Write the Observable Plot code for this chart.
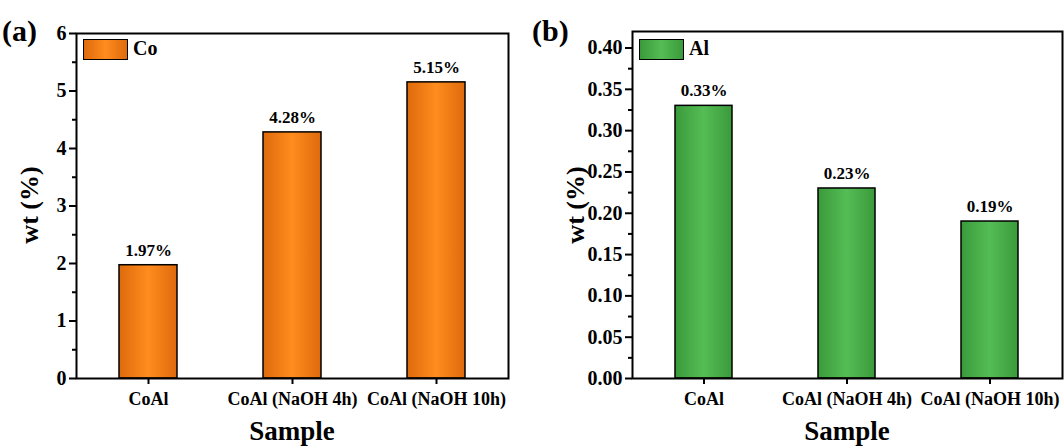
<!DOCTYPE html>
<html>
<head>
<meta charset="utf-8">
<script src="https://cdn.jsdelivr.net/npm/d3@7"></script>
<script src="https://cdn.jsdelivr.net/npm/@observablehq/plot@0.6"></script>
<style>
  html, body { margin: 0; padding: 0; background: #fff; }
  #wrap { position: relative; width: 1064px; height: 446px; display: flex; font-family: "Liberation Serif", "Times New Roman", serif; font-weight: bold; color: #000; }
  .panel { position: relative; width: 532px; height: 446px; }
  .ov { position: absolute; white-space: nowrap; font-weight: bold; }
  .swatch { position: absolute; width: 43px; height: 19px; border: 1.5px solid #000; }
  svg text { font-family: "Liberation Serif", "Times New Roman", serif; }
</style>
</head>
<body>
<div id="wrap">
  <div class="panel" id="pa"></div>
  <div class="panel" id="pb"></div>
</div>
<script>
// ---- data ----
const samples = ["CoAl", "CoAl (NaOH 4h)", "CoAl (NaOH 10h)"];
const coValues = [1.97, 4.28, 5.15];
const alValues = [0.33, 0.23, 0.19];
const seriesNames = ["Co", "Al"];
const panelLetters = ["(a)", "(b)"];
const coTicks = [0, 1, 2, 3, 4, 5, 6];
const coMinor = [0.5, 1.5, 2.5, 3.5, 4.5, 5.5];
const alTicks = [0, 0.05, 0.10, 0.15, 0.20, 0.25, 0.30, 0.35, 0.40];
const alMinor = [0.025, 0.075, 0.125, 0.175, 0.225, 0.275, 0.325, 0.375];
const yLabel = "wt (%)";
const xLabel = "Sample";

const FONT = '"Liberation Serif", "Times New Roman", serif';

const colors = {
  Co: {edge: "#de6a0c", mid: "#ff8c1e"},
  Al: {edge: "#3a9a3a", mid: "#55bd55"}
};

function addGradient(svg, id, c) {
  const ns = "http://www.w3.org/2000/svg";
  const defs = document.createElementNS(ns, "defs");
  const g = document.createElementNS(ns, "linearGradient");
  g.setAttribute("id", id);
  g.setAttribute("x1", "0"); g.setAttribute("x2", "1");
  g.setAttribute("y1", "0"); g.setAttribute("y2", "0");
  [[0, c.edge], [0.5, c.mid], [1, c.edge]].forEach(([o, col]) => {
    const s = document.createElementNS(ns, "stop");
    s.setAttribute("offset", o);
    s.setAttribute("stop-color", col);
    g.appendChild(s);
  });
  defs.appendChild(g);
  svg.insertBefore(defs, svg.firstChild);
}

function panel(el, values, ticks, minor, domain, fmt, name, letter, opts) {
  const data = samples.map((s, i) => ({sample: s, value: values[i]}));
  const gid = "grad" + name;
  const svg = Plot.plot({
    width: 532,
    height: 446,
    marginLeft: opts.ml,
    marginRight: opts.mr,
    marginTop: opts.mt,
    marginBottom: 68,
    style: {fontFamily: FONT, fontWeight: "bold", color: "#000", background: "#fff", overflow: "visible"},
    x: {domain: samples, paddingInner: 0.6, paddingOuter: 0.3, label: null},
    y: {domain: domain, label: null},
    marks: [
      Plot.barY(data, {x: "sample", y: "value", fill: `url(#${gid})`, stroke: "#000", strokeWidth: 1.5}),
      Plot.text(data, {x: "sample", y: "value", text: d => d.value.toFixed(2) + "%", dy: -15, fontSize: 17, fontWeight: "bold"}),
      Plot.axisY({ticks: ticks, tickFormat: fmt, tickSize: 7, tickPadding: 3, strokeWidth: 2, fontSize: 20, fontWeight: "bold", label: null}),
      Plot.axisY({ticks: minor, tickSize: 4, text: null, strokeWidth: 2, label: null}),
      Plot.axisX({tickSize: 6, tickPadding: 8, strokeWidth: 2, fontSize: 18, fontWeight: "bold", label: null}),
      Plot.frame({stroke: "#000", strokeWidth: 2})
    ]
  });
  addGradient(svg, gid, colors[name]);
  el.appendChild(svg);

  const L = document.createElement("div");
  L.className = "ov"; L.textContent = letter;
  L.style.left = opts.letterX + "px"; L.style.top = "14px"; L.style.fontSize = "30px";
  el.appendChild(L);
  const Y = document.createElement("div");
  Y.className = "ov"; Y.textContent = yLabel;
  Y.style.fontSize = "26px";
  Y.style.left = opts.ylx + "px"; Y.style.top = "205px";
  Y.style.transform = "translate(-50%, -50%) rotate(-90deg)";
  el.appendChild(Y);
  const X = document.createElement("div");
  X.className = "ov"; X.textContent = xLabel;
  X.style.fontSize = "27px";
  X.style.left = (opts.ml + (532 - opts.ml - opts.mr) / 2) + "px"; X.style.top = "431px";
  X.style.transform = "translate(-50%, -50%)";
  el.appendChild(X);
  const sw = document.createElement("div");
  sw.className = "swatch";
  sw.style.left = (opts.ml + 7) + "px"; sw.style.top = "39px";
  sw.style.background = `linear-gradient(to right, ${colors[name].edge}, ${colors[name].mid}, ${colors[name].edge})`;
  el.appendChild(sw);
  const lt = document.createElement("div");
  lt.className = "ov"; lt.textContent = name;
  lt.style.fontSize = "20px";
  lt.style.left = (opts.ml + 57) + "px"; lt.style.top = "37px";
  el.appendChild(lt);
}

panel(document.getElementById("pa"), coValues, coTicks, coMinor, [0, 6], d => d3.format("d")(d), seriesNames[0], panelLetters[0],
  {ml: 76, mr: 24, mt: 33, letterX: 2, ylx: 30});
panel(document.getElementById("pb"), alValues, alTicks, alMinor, [0, 0.42], d => d3.format(".2f")(d), seriesNames[1], panelLetters[1],
  {ml: 100, mr: 2, mt: 31, letterX: 0, ylx: 44});
</script>
</body>
</html>
